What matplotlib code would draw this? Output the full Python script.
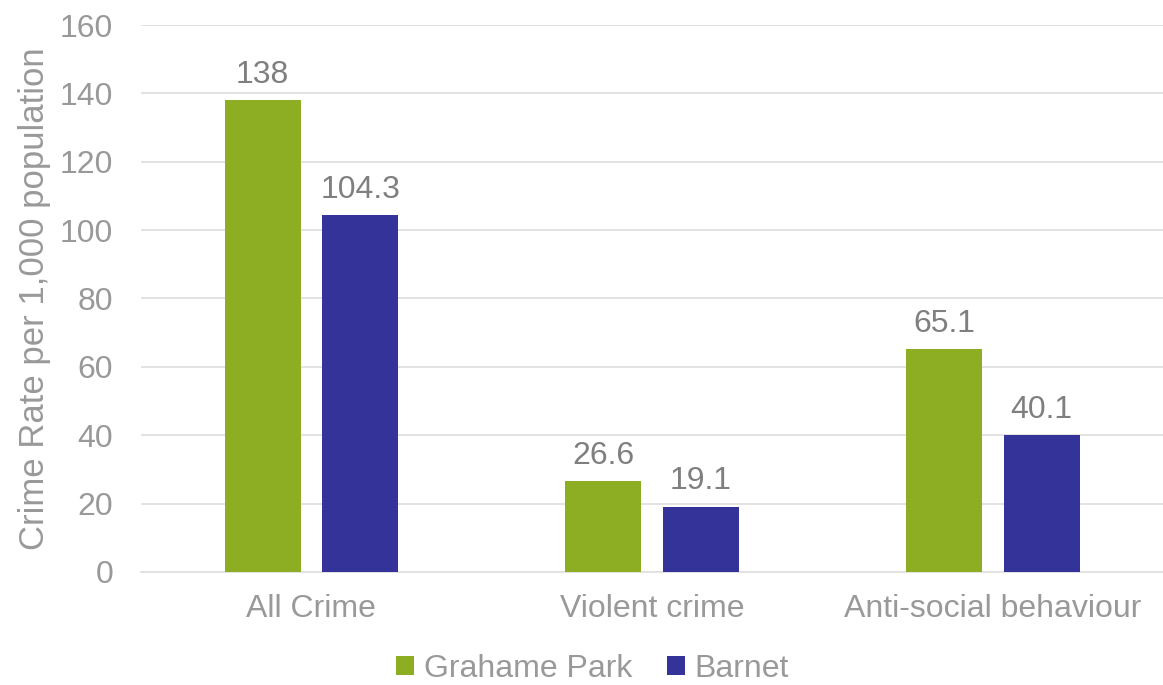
import matplotlib.pyplot as plt
import numpy as np

categories = ['All Crime', 'Violent crime', 'Anti-social behaviour']
grahame_park = [138, 26.6, 65.1]
barnet = [104.3, 19.1, 40.1]
series_names = ['Grahame Park', 'Barnet']

green = '#8DAE22'
blue = '#343399'
label_grey = '#7F7F7F'
tick_grey = '#999999'

plt.rcParams['font.family'] = ['Liberation Sans', 'DejaVu Sans']

fig = plt.figure(figsize=(11.63, 6.85), dpi=100)
ax = fig.add_axes([0.1212, 0.165, 0.879, 0.7985])

x = np.arange(len(categories))
w = 0.223
off = 0.143
b1 = ax.bar(x - off, grahame_park, w, color=green, label=series_names[0], zorder=3)
b2 = ax.bar(x + off, barnet, w, color=blue, label=series_names[1], zorder=3)

for bars, vals in [(b1, grahame_park), (b2, barnet)]:
    for r, v in zip(bars, vals):
        ax.text(r.get_x() + r.get_width() / 2, v + 3, f'{v:g}', ha='center', va='bottom',
                fontsize=23, color=label_grey)

ax.set_xlim(-0.5, 2.5)
ax.set_ylim(0, 160)
ax.set_yticks(range(0, 161, 20))
ax.set_xticks(x)
ax.set_xticklabels(categories)
ax.tick_params(axis='both', length=0, labelsize=23, colors=tick_grey)
ax.tick_params(axis='x', pad=16)
ax.tick_params(axis='y', pad=20)
ax.yaxis.grid(True, color='#E0E0E0', linewidth=1.3, zorder=0)
for s in ['top', 'right', 'left']:
    ax.spines[s].set_visible(False)
ax.spines['bottom'].set_color('#E0E0E0')
ax.spines['bottom'].set_linewidth(1.3)
ax.set_ylabel('Crime Rate per 1,000 population', fontsize=25, color=tick_grey, labelpad=6)

fig.legend(handles=[b1, b2], loc='center', bbox_to_anchor=(0.5095, 0.024), ncol=2, frameon=False,
           fontsize=23, labelcolor=tick_grey, handlelength=0.55, handleheight=0.55,
           handletextpad=0.3, columnspacing=1.1)

fig.savefig('out.png', dpi=100)
